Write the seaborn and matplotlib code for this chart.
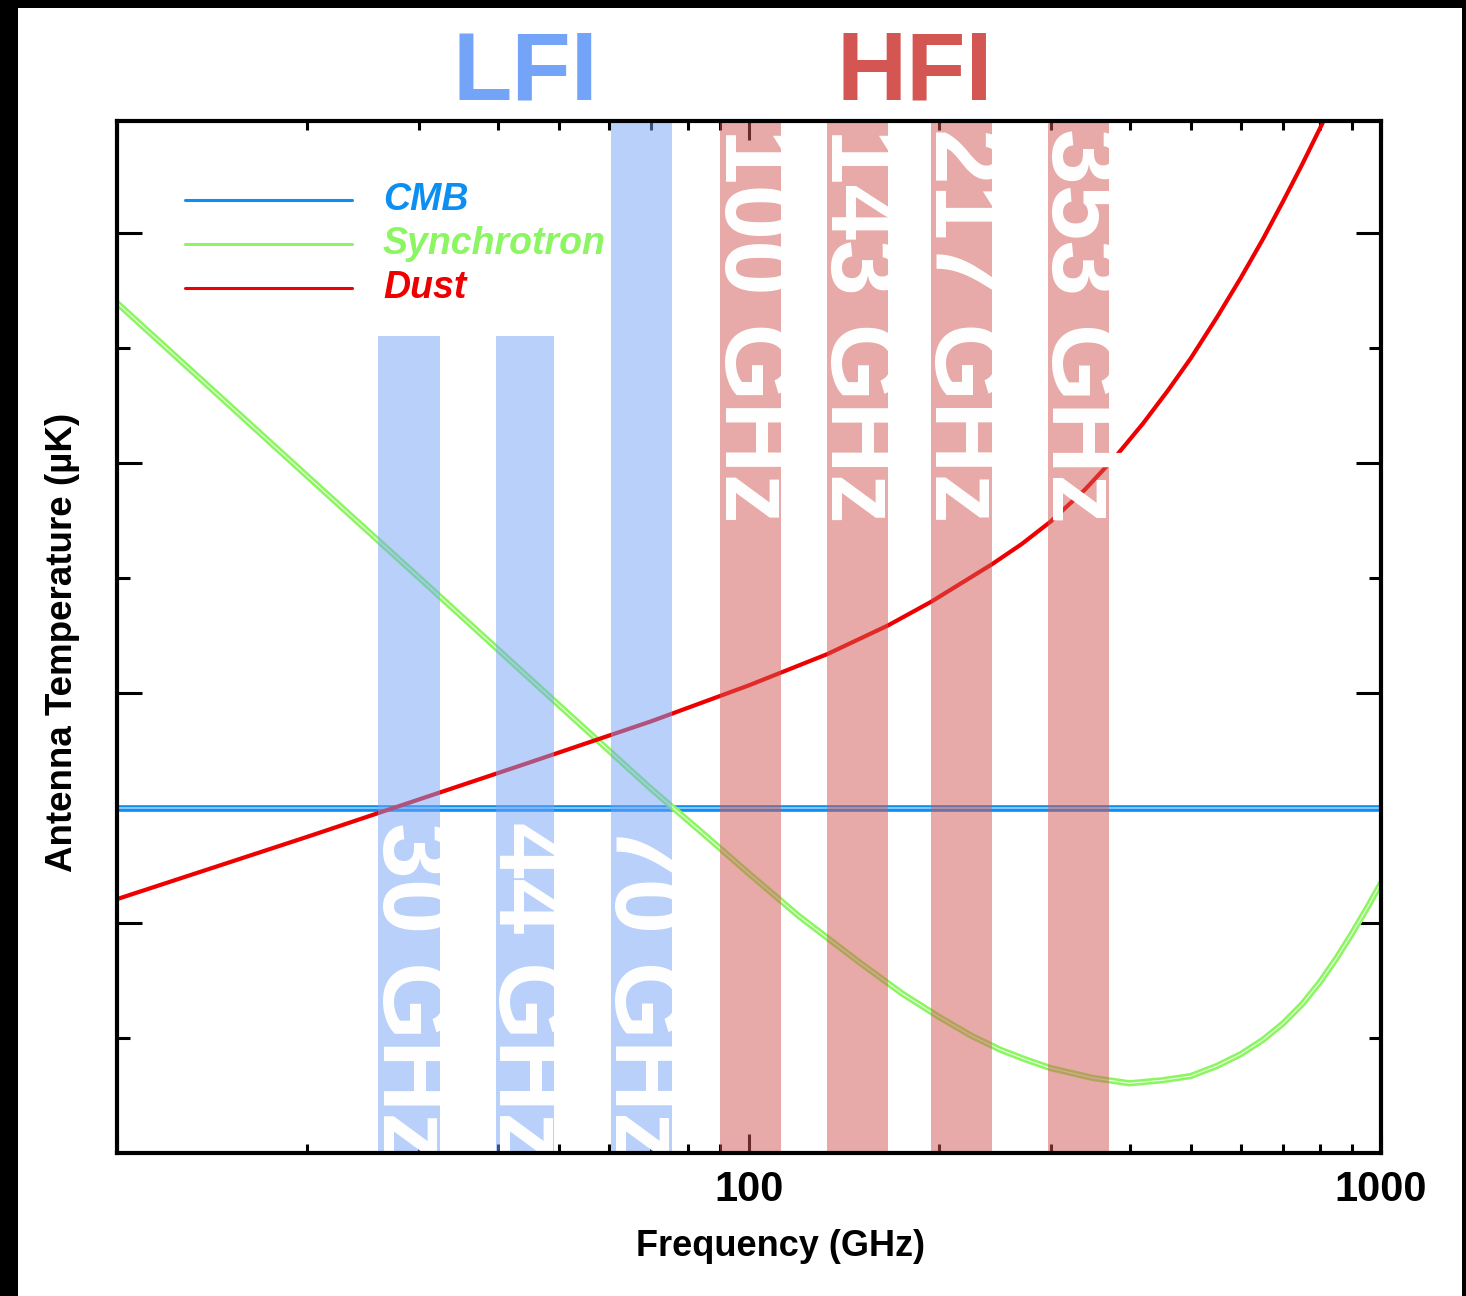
import matplotlib
matplotlib.use("Agg")
import matplotlib.pyplot as plt
import matplotlib.patheffects as pe
import matplotlib.ticker as mticker
from matplotlib.patches import Rectangle
from matplotlib.lines import Line2D
import numpy as np
import seaborn as sns

# spectra (frequency in GHz, antenna temperature in uK)
cmb_freq = [10, 1000]
cmb_temp = [31.6, 31.6]

sync_freq = [10, 20, 30, 50, 70, 84, 100, 120, 150, 175, 200, 225, 250, 275,
             300, 350, 400, 450, 500, 550, 600, 650, 700, 750, 800, 850, 900,
             950, 1000]
sync_temp = [4966, 877, 319, 88.7, 38.3, 24.9, 16.4, 10.7, 6.70, 4.92, 3.90,
             3.23, 2.81, 2.54, 2.34, 2.12, 2.01, 2.07, 2.16, 2.39, 2.69, 3.10,
             3.66, 4.43, 5.52, 7.02, 9.02, 11.6, 14.9]

dust_freq = [10, 20, 30, 44, 70, 100, 133, 166, 194, 242, 270, 300, 340, 380,
             420, 460, 500, 550, 600, 650, 700, 750, 800, 850]
dust_temp = [12.7, 23.7, 34.4, 48.9, 75.3, 108, 147.6, 196.8, 248.9, 362, 444,
             556, 766, 1064, 1483, 2065, 2852, 4297, 6383, 9376, 13740, 19820,
             28400, 39800]

# Planck frequency bands
band_names = ["30 GHz", "44 GHz", "70 GHz", "100 GHz", "143 GHz", "217 GHz", "353 GHz"]
band_lo = [25.9, 39.8, 60.5, 90.0, 132.8, 194, 297]
band_hi = [32.4, 49.1, 75.5, 112.4, 166, 242, 371]
band_top = [3565, 3565, 1e5, 1e5, 1e5, 1e5, 1e5]
band_inst = ["LFI", "LFI", "LFI", "HFI", "HFI", "HFI", "HFI"]

LFI_COLOR = "#74a4f7"
HFI_COLOR = "#d35653"
CMB_COLOR = "#0d8ff2"
SYNC_COLOR = "#8cf562"
DUST_COLOR = "#ee0000"

sns.set_style("ticks")
plt.rcParams["font.family"] = ["Liberation Sans", "DejaVu Sans"]
plt.rcParams["text.color"] = "black"
plt.rcParams["axes.labelcolor"] = "black"
plt.rcParams["xtick.color"] = "black"
plt.rcParams["ytick.color"] = "black"

fig = plt.figure(figsize=(14.66, 12.96), dpi=100, facecolor="black")
fig.patches.append(Rectangle((18 / 1466, 0), 1444 / 1466, 1288 / 1296,
                             transform=fig.transFigure, facecolor="white",
                             edgecolor="none", zorder=-10))
ax = fig.add_axes([117 / 1466, 143 / 1296, 1264 / 1466, 1032 / 1296])
ax.set_facecolor("white")

sns.lineplot(x=cmb_freq, y=cmb_temp, ax=ax, color="#a8d6ff", lw=1.1, zorder=2,
             path_effects=[pe.Stroke(linewidth=4.8, foreground=CMB_COLOR), pe.Normal()])
sns.lineplot(x=sync_freq, y=sync_temp, ax=ax, color="#e4ffd8", lw=0.9, zorder=2,
             path_effects=[pe.Stroke(linewidth=4.5, foreground=SYNC_COLOR), pe.Normal()])
sns.lineplot(x=dust_freq, y=dust_temp, ax=ax, color=DUST_COLOR, lw=3.0, zorder=2)

ax.set_xscale("log")
ax.set_yscale("log")
ax.set_xlim(10, 1000)
ax.set_ylim(1, 10 ** 4.487)

for name, lo, hi, top, inst in zip(band_names, band_lo, band_hi, band_top, band_inst):
    col = LFI_COLOR if inst == "LFI" else HFI_COLOR
    ax.bar(lo, top - 1, width=hi - lo, bottom=1, align="edge", color=col,
           alpha=0.5, linewidth=0, zorder=3)
    ystart = 27.5 if inst == "LFI" else 28600
    ax.text(np.sqrt(lo * hi), ystart, name, rotation=-90, ha="center", va="top",
            color="white", fontsize=72, fontweight="bold", zorder=4, clip_on=True)

# instrument titles over the band groups
trans = matplotlib.transforms.blended_transform_factory(ax.transData, ax.transAxes)
ax.text(np.sqrt(band_lo[0] * band_hi[2]), 1.0205, "LFI", transform=trans, ha="center",
        va="baseline", fontsize=70, fontweight="bold", color=LFI_COLOR)
ax.text(np.sqrt(band_lo[3] * band_hi[6]), 1.0205, "HFI", transform=trans, ha="center",
        va="baseline", fontsize=70, fontweight="bold", color=HFI_COLOR)

# legend
leg_labels = ["CMB", "Synchrotron", "Dust"]
leg_colors = [CMB_COLOR, SYNC_COLOR, DUST_COLOR]
for i, (lab, col) in enumerate(zip(leg_labels, leg_colors)):
    yy = 0.9234 - i * 0.0426
    ax.add_line(Line2D([0.0538, 0.1859], [yy, yy], transform=ax.transAxes,
                       color=col, lw=2.2, zorder=5))
    ax.text(0.2104, yy, lab, transform=ax.transAxes, ha="left", va="center",
            color=col, fontsize=27, fontweight="bold", style="italic", zorder=5)

# ticks
ax.xaxis.set_major_locator(mticker.FixedLocator([10, 100, 1000]))
ax.xaxis.set_major_formatter(mticker.FixedFormatter(["", "100", "1000"]))
ax.xaxis.set_minor_locator(mticker.LogLocator(base=10, subs=np.arange(2, 10)))
ax.xaxis.set_minor_formatter(mticker.NullFormatter())
ax.yaxis.set_major_locator(mticker.FixedLocator([10, 100, 1000, 10000]))
ax.yaxis.set_minor_locator(mticker.FixedLocator([3.162, 31.62, 316.2, 3162]))
ax.yaxis.set_major_formatter(mticker.NullFormatter())
ax.yaxis.set_minor_formatter(mticker.NullFormatter())
ax.tick_params(which="both", direction="in", top=True, right=True, width=2.2, color="black")
ax.tick_params(axis="x", which="major", length=14, labelsize=30, pad=12)
ax.tick_params(axis="x", which="minor", length=6.5)
ax.tick_params(axis="y", which="major", length=18)
ax.tick_params(axis="y", which="minor", length=9)
for lab in ax.get_xticklabels():
    lab.set_fontweight("bold")
for sp in ax.spines.values():
    sp.set_linewidth(3.0)
    sp.set_color("black")
    sp.set_zorder(6)

ax.set_xlabel("Frequency (GHz)", fontsize=26, fontweight="bold")
ax.xaxis.set_label_coords(0.525, -0.074)
ax.set_ylabel("Antenna Temperature (µK)", fontsize=26.5, fontweight="bold")
ax.yaxis.set_label_coords(-0.029, 0.495)

fig.savefig("out.png", dpi=100, facecolor=fig.get_facecolor())
